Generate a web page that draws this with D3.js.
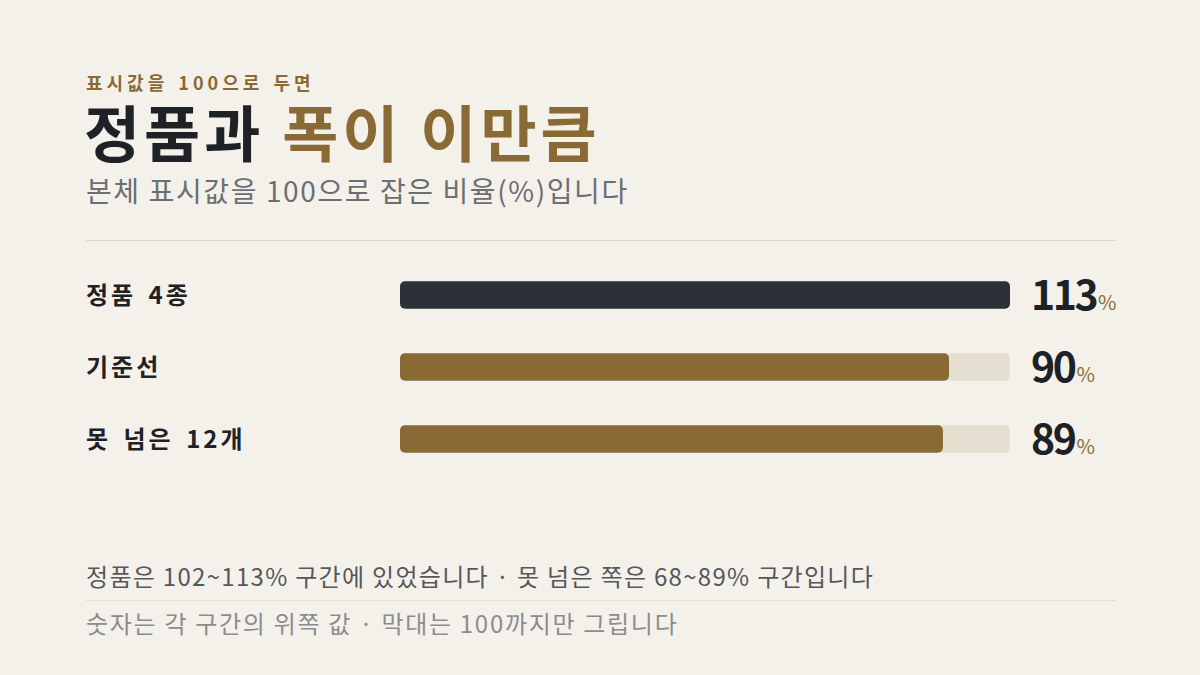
<!DOCTYPE html>
<html>
<head>
<meta charset="utf-8">
<script src="https://cdn.jsdelivr.net/npm/d3@7"></script>
<style>
  html, body { margin: 0; padding: 0; background: #f4f1ea; }
  svg { display: block; font-family: "Noto Sans CJK KR", "Noto Sans", sans-serif; }
</style>
</head>
<body>
<svg id="chart" width="1200" height="675"></svg>
<script>
// data
const categories = ["정품 4종", "기준선", "못 넘은 12개"];
const values = [113, 90, 89];
const barColors = ["#2b3039", "#8a6a34", "#8a6a34"];
const domainMax = 100; // bars are drawn only up to 100

const svg = d3.select("#chart");
const W = 1200, H = 675;

svg.append("rect").attr("width", W).attr("height", H).attr("fill", "#f4f1ea");

// heading
svg.append("text")
    .attr("x", 86).attr("y", 90)
    .attr("fill", "#8a6a34")
    .attr("font-size", 18).attr("font-weight", 700)
    .attr("letter-spacing", 4)
    .attr("word-spacing", 2)
    .text("표시값을 100으로 두면");

let title = svg.append("text")
    .attr("x", 84).attr("y", 157)
    .attr("font-size", 61).attr("font-weight", 700)
    .attr("letter-spacing", 4);
title.append("tspan").attr("fill", "#1e2126").text("정품과 ");
title.append("tspan").attr("fill", "#8a6a34").text("폭이 이만큼");

svg.append("text")
    .attr("x", 86).attr("y", 202)
    .attr("fill", "#6c6e72")
    .attr("font-size", 28).attr("font-weight", 400)
    .attr("letter-spacing", 1.6)
    .text("본체 표시값을 100으로 잡은 비율(%)입니다");

svg.append("line")
    .attr("x1", 86).attr("x2", 1116)
    .attr("y1", 240.5).attr("y2", 240.5)
    .attr("stroke", "#dcd8d0").attr("stroke-width", 1);

// scales
const x = d3.scaleLinear().domain([0, domainMax]).range([400, 1010]);
const y = d3.scaleBand().domain(categories).range([259, 475]).paddingInner(0.62).paddingOuter(0.31);

const rows = svg.append("g")
    .selectAll("g")
    .data(categories)
    .enter()
    .append("g")
    .attr("transform", function(d) { return "translate(0," + y(d) + ")"; });

// labels
rows.append("text")
    .attr("x", 86)
    .attr("y", y.bandwidth() / 2)
    .attr("dy", "0.38em")
    .attr("fill", "#1e2126")
    .attr("font-size", 24).attr("font-weight", 700)
    .attr("letter-spacing", 3)
    .attr("word-spacing", 4)
    .text(function(d) { return d; });

// track
rows.append("rect")
    .attr("x", x(0))
    .attr("width", x(domainMax) - x(0))
    .attr("height", y.bandwidth())
    .attr("rx", 5)
    .attr("fill", "#e5dfd2");

// value bars, clipped at 100
rows.append("rect")
    .attr("x", x(0))
    .attr("width", function(d, i) { return x(Math.min(values[i], domainMax)) - x(0); })
    .attr("height", y.bandwidth())
    .attr("rx", 5)
    .attr("fill", function(d, i) { return barColors[i]; });

// value text
let vt = rows.append("text")
    .attr("x", 1031)
    .attr("y", y.bandwidth() / 2 + 15)
    .attr("font-weight", 700);
vt.append("tspan")
    .attr("fill", "#1e2126")
    .attr("font-size", 41)
    .attr("letter-spacing", -2.5)
    .text(function(d, i) { return values[i]; });
vt.append("tspan")
    .attr("fill", "#8a6a34")
    .attr("font-size", 20)
    .attr("font-weight", 400)
    .attr("dx", 2)
    .text("%");

// footer
svg.append("text")
    .attr("x", 86).attr("y", 586)
    .attr("fill", "#55575b")
    .attr("font-size", 24)
    .attr("letter-spacing", 1.3)
    .text("정품은 102~113% 구간에 있었습니다 · 못 넘은 쪽은 68~89% 구간입니다");

svg.append("line")
    .attr("x1", 86).attr("x2", 1116)
    .attr("y1", 600.5).attr("y2", 600.5)
    .attr("stroke", "#e2ded6").attr("stroke-width", 1);

svg.append("text")
    .attr("x", 86).attr("y", 633)
    .attr("fill", "#8b8c8f")
    .attr("font-size", 24)
    .attr("letter-spacing", 1.7)
    .text("숫자는 각 구간의 위쪽 값 · 막대는 100까지만 그립니다");
</script>
</body>
</html>
